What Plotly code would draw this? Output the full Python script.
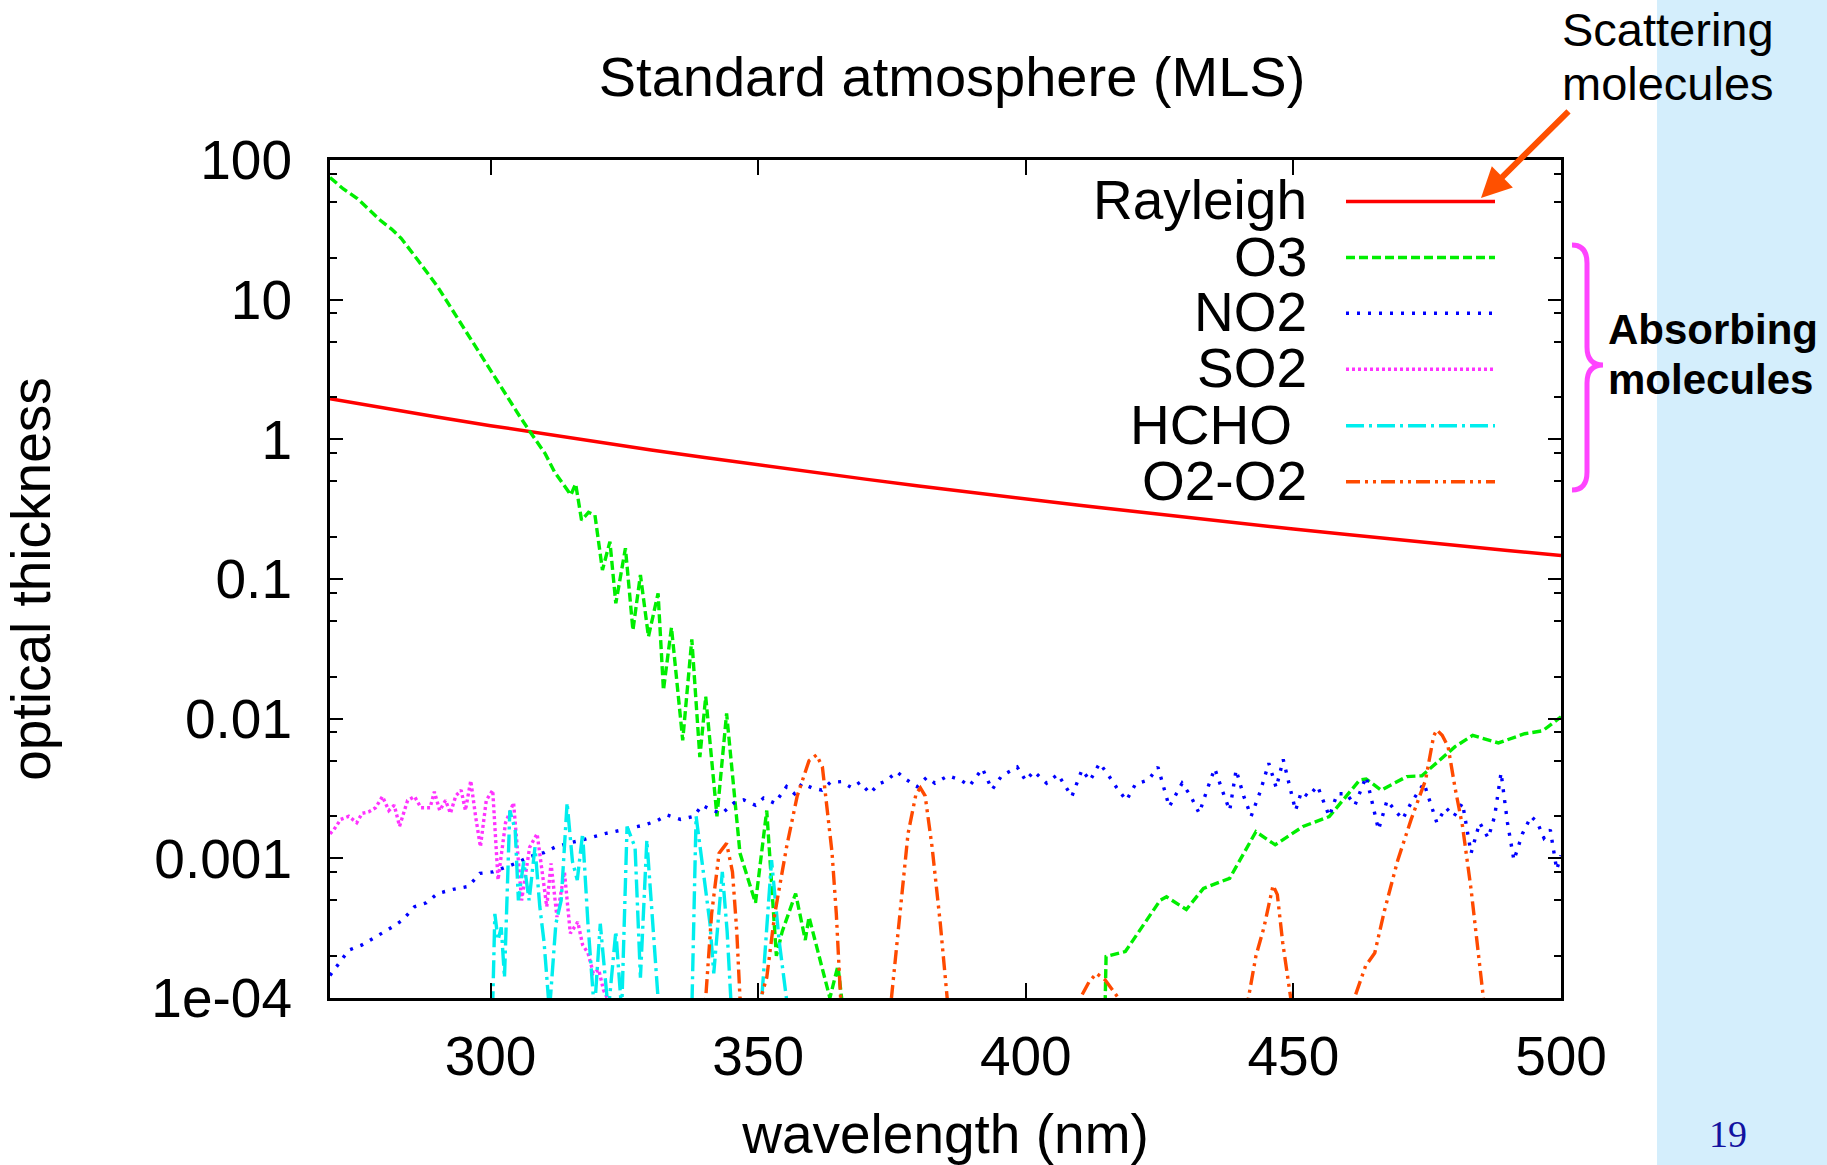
import plotly.graph_objects as go

# ---------------- data ----------------
ray_wl = [270, 280, 290, 300, 310, 320, 330, 340, 350, 360, 370, 380, 390, 400,
          410, 420, 430, 440, 450, 460, 470, 480, 490, 500]
ray_tau = [1.95, 1.674, 1.445, 1.253, 1.092, 0.955, 0.839, 0.741, 0.656, 0.582, 0.519,
           0.464, 0.416, 0.374, 0.337, 0.305, 0.276, 0.251, 0.228, 0.208, 0.190,
           0.174, 0.160, 0.147]

o3_wl = [270.0, 272.5, 275.1, 277.0, 279.4, 281.5, 283.3, 286.5, 290.1, 294.0, 298.0,
         300.5, 303.0, 305.5, 307.6, 310.2, 312.0, 313.0, 313.8, 315.0, 315.9, 317.0,
         318.3, 319.5, 320.9, 322.3, 323.4, 325.2, 326.6, 328.0, 329.5, 331.3, 332.3,
         333.8, 335.9, 337.6, 339.1, 340.2, 342.3, 344.1, 346.6, 349.5, 351.6, 353.4,
         354.5, 357.0, 358.8, 359.5, 363.4, 364.9, 366.5, 372.0, 390.0, 410.0, 414.8,
         415.0, 418.6, 421.1, 425.1, 426.3, 430.0, 433.2, 438.1, 443.0, 446.6, 451.8,
         456.7, 462.4, 463.6, 466.4, 471.2, 474.0, 480.2, 483.5, 488.3, 493.2, 496.6,
         500.0]
o3_tau = [75, 62, 53, 45, 37, 32, 27.5, 19, 12.4, 7.2, 4.13,
          2.9, 2.02, 1.45, 1.10, 0.79, 0.58, 0.51, 0.47, 0.40, 0.48, 0.264,
          0.30, 0.287, 0.116, 0.185, 0.067, 0.166, 0.043, 0.107, 0.0387, 0.079, 0.016,
          0.045, 0.0070, 0.037, 0.0053, 0.0144, 0.0020, 0.0109, 0.00109, 0.00048, 0.0022, 0.0002,
          0.0003, 0.00056, 0.00026, 0.00038, 0.0001, 0.00017, 0.00005, 0.00003, 0.00003, 0.00004, 0.00008,
          0.000198, 0.000215, 0.0003, 0.0005, 0.00053, 0.00043, 0.00061, 0.00072, 0.00155, 0.00125, 0.00169,
          0.00199, 0.00364, 0.0037, 0.00308, 0.00385, 0.0039, 0.0063, 0.0076, 0.0067, 0.0078, 0.0082,
          0.0103]

no2_wl = [270.0, 270.7, 273.5, 276.0, 278.7, 281.5, 283.5, 285.8, 288.0, 290.1, 293.0, 295.9,
          298.0, 300.5, 303.0, 305.0, 307.3, 310.0, 312.0, 314.4, 317.0, 319.0, 321.6,
          324.0, 326.0, 328.7, 331.0, 333.0, 335.5, 338.0, 339.5, 341.5, 343.3, 345.5,
          347.3, 349.5, 351.0, 353.1, 355.3, 356.8, 358.2, 360.0, 361.9, 363.5, 365.5,
          367.5, 369.0, 370.9, 372.5, 374.0, 375.9, 377.5, 379.7, 381.5, 383.0, 385.5,
          387.8, 389.5, 391.9, 393.7, 395.5, 398.4, 400.0, 401.5, 403.9, 406.0, 408.6,
          410.5, 412.0, 413.8, 415.5, 417.0, 418.8, 420.5, 422.9, 424.7, 426.8, 429.2,
          430.8, 432.4, 434.0, 435.3, 436.8, 438.1, 439.3, 440.7, 442.1, 443.8, 445.4,
          446.8, 448.1, 450.4, 451.5, 452.8, 454.5, 456.7, 458.2, 459.9, 461.5, 463.6,
          465.9, 467.5, 469.0, 470.4, 472.0, 474.4, 476.8, 478.5, 480.0, 481.6, 483.2,
          484.8, 486.4, 487.6, 488.8, 490.0, 491.2, 492.8, 494.4, 495.6, 496.8, 498.0,
          499.2, 500.0]
no2_tau = [1.45e-4, 1.58e-4, 2.2e-4, 2.4e-4, 2.75e-4, 3.2e-4, 3.6e-4, 4.5e-4, 4.8e-4, 5.6e-4, 6.0e-4, 6.3e-4,
           7.8e-4, 8.0e-4, 8.7e-4, 9.3e-4, 1.03e-3, 1.1e-3, 1.2e-3, 1.28e-3, 1.35e-3, 1.42e-3, 1.51e-3,
           1.58e-3, 1.65e-3, 1.73e-3, 1.85e-3, 2.04e-3, 1.9e-3, 2.0e-3, 2.4e-3, 2.2e-3, 2.1e-3, 2.5e-3,
           2.62e-3, 2.4e-3, 2.7e-3, 2.48e-3, 3.26e-3, 2.9e-3, 3.44e-3, 3.2e-3, 3.08e-3, 3.5e-3, 3.54e-3,
           3.2e-3, 3.5e-3, 2.92e-3, 3.4e-3, 3.6e-3, 4.17e-3, 3.7e-3, 3.26e-3, 3.8e-3, 3.45e-3, 3.9e-3,
           3.64e-3, 3.3e-3, 4.4e-3, 3.1e-3, 3.9e-3, 4.5e-3, 3.6e-3, 4.2e-3, 3.45e-3, 4.0e-3, 2.77e-3,
           4.3e-3, 3.6e-3, 4.8e-3, 3.9e-3, 3.2e-3, 2.6e-3, 3.4e-3, 3.64e-3, 4.5e-3, 2.34e-3, 3.45e-3,
           2.8e-3, 2.1e-3, 3.2e-3, 4.4e-3, 3.0e-3, 2.2e-3, 4.3e-3, 2.8e-3, 2.0e-3, 3.0e-3, 4.8e-3,
           3.2e-3, 5.1e-3, 2.2e-3, 3.0e-3, 2.77e-3, 3.3e-3, 2.0e-3, 2.9e-3, 2.9e-3, 2.4e-3, 3.85e-3,
           1.6e-3, 2.6e-3, 2.2e-3, 1.9e-3, 2.5e-3, 3.45e-3, 1.8e-3, 2.3e-3, 2.0e-3, 2.48e-3, 1.09e-3,
           1.8e-3, 1.4e-3, 2.0e-3, 4.1e-3, 1.8e-3, 9.7e-4, 1.5e-3, 2.0e-3, 1.8e-3, 1.4e-3, 1.6e-3,
           8.3e-4, 1.05e-3]

so2_wl = [270.0, 270.7, 272.0, 273.5, 275.0, 276.0, 277.2, 278.5, 279.8, 281.0, 282.0, 283.0,
          284.5, 285.8, 287.0, 288.7, 289.5, 290.5, 291.6, 292.5, 293.5, 294.5, 295.3, 296.3,
          297.2, 298.1, 299.2, 300.4, 301.4, 302.8, 304.3, 305.8, 307.3, 308.7, 310.5, 311.3,
          312.4, 313.8, 314.9, 316.3, 317.2, 318.2, 319.2, 320.2, 321.1, 321.8, 323.0, 326.0]
so2_tau = [1.5e-3, 1.6e-3, 1.9e-3, 2.0e-3, 1.8e-3, 2.1e-3, 2.15e-3, 2.3e-3, 2.77e-3, 2.2e-3, 2.4e-3, 1.7e-3,
           2.6e-3, 2.77e-3, 2.3e-3, 2.3e-3, 3.0e-3, 2.2e-3, 2.6e-3, 2.1e-3, 2.8e-3, 3.08e-3, 2.2e-3, 3.6e-3,
           2.0e-3, 1.21e-3, 2.6e-3, 3.08e-3, 7.0e-4, 1.8e-3, 2.5e-3, 5.0e-4, 1.2e-3, 1.5e-3, 4.5e-4, 9.2e-4,
           3.8e-4, 8.0e-4, 2.9e-4, 3.5e-4, 2.4e-4, 2.1e-4, 1.5e-4, 1.6e-4, 1.14e-4, 1.0e-4, 6e-5, 3e-5]

hcho_wl = [299.5, 300.4, 300.8, 301.4, 302.0, 302.6, 303.6, 304.6, 305.2, 306.2, 307.2, 308.3,
           309.2, 310.0, 311.0, 312.2, 313.2, 314.3, 315.3, 316.2, 317.2, 318.2, 319.4, 320.5,
           322.0, 323.4, 324.5, 325.5, 327.0, 328.0, 329.2, 330.6, 331.7, 333.0, 337.0, 337.6,
           338.4, 339.5, 341.0, 341.7, 343.3, 344.2, 345.1, 346.0, 350.0, 350.5, 352.5, 353.9,
           355.8, 357.0]
hcho_tau = [3e-5, 9e-5, 4.0e-4, 2.6e-4, 3.2e-4, 1.4e-4, 2.2e-3, 1.6e-3, 5e-4, 9.5e-4, 5e-4, 1.2e-3,
            4.5e-4, 2.5e-4, 8e-5, 3.4e-4, 5e-4, 2.5e-3, 9.5e-4, 7e-4, 1.5e-3, 3.4e-4, 8e-5, 3.4e-4,
            8e-5, 3.0e-4, 8e-5, 1.69e-3, 1.2e-3, 1.4e-4, 1.35e-3, 2.6e-4, 6e-5, 3e-5, 3e-5, 8e-5,
            2.0e-3, 9.5e-4, 3.4e-4, 1.5e-4, 8e-4, 3e-4, 7e-5, 3e-5, 3e-5, 8e-5, 9.7e-4, 2.6e-4,
            7e-5, 3e-5]

o4_wl = [336.0, 340.2, 341.3, 342.7, 344.1, 345.2, 346.0, 346.6, 348.0, 350.5, 351.6, 353.1,
         355.3, 357.3, 359.5, 360.9, 362.0, 362.8, 363.8, 364.6, 365.4, 367.0, 372.0, 374.9,
         376.5, 378.0, 379.5, 380.3, 381.2, 382.5, 384.0, 385.3, 387.0, 407.0, 410.2, 411.8,
         413.2, 414.8, 417.3, 419.0, 438.0, 441.6, 443.0, 444.5, 446.2, 447.0, 448.0, 449.5,
         451.0, 458.0, 461.4, 463.5, 465.2, 467.0, 469.5, 472.0, 474.7, 476.2, 476.8, 477.8,
         478.9, 480.2, 481.6, 483.2, 484.3, 485.5, 487.0]
o4_tau = [2e-5, 1e-4, 4e-4, 1.09e-3, 1.28e-3, 8e-4, 3e-4, 1e-4, 2e-5, 1e-4, 1.4e-4, 4e-4,
          1.2e-3, 2.8e-3, 5.0e-3, 5.5e-3, 4.5e-3, 2.5e-3, 1.1e-3, 4e-4, 1e-4, 2e-5, 2e-5, 1e-4,
          4e-4, 1.5e-3, 2.9e-3, 3.2e-3, 2.8e-3, 1.2e-3, 3.5e-4, 1e-4, 2e-5, 2e-5, 1e-4, 1.3e-4,
          1.5e-4, 1.35e-4, 1e-4, 3e-5, 2e-5, 1e-4, 2.0e-4, 3.2e-4, 6.4e-4, 5.5e-4, 2.5e-4, 1e-4,
          2e-5, 2e-5, 1e-4, 1.7e-4, 2.1e-4, 4.2e-4, 9.7e-4, 1.9e-3, 3.64e-3, 7.5e-3, 8.3e-3, 7.6e-3,
          6.3e-3, 3.2e-3, 1.7e-3, 6e-4, 2.5e-4, 1e-4, 2e-5]

series_names = ["Rayleigh", "O3", "NO2", "SO2", "HCHO", "O2-O2"]
legend_labels = ["Rayleigh", "O3", "NO2", "SO2", "HCHO", "O2-O2"]
x_tickvals = [300, 350, 400, 450, 500]
y_tickvals = [1e-4, 1e-3, 1e-2, 1e-1, 1, 10, 100]
y_ticktext = ["1e-04", "0.001", "0.01", "0.1", "1", "10", "100"]
y_minorvals = [m * 10.0 ** k for k in range(-4, 2) for m in (2, 5, 8)]

# ---------------- styles ----------------
colors = ["#ff0000", "#00ee00", "#0000ff", "#ff33ff", "#00eeee", "#ff4a00"]
dashes = ["solid", "9px,4px", "3px,8px", "3px,3px", "18px,5px,3px,5px",
          "14px,5px,3px,5px,3px,5px"]
widths = [3.5, 3.4, 3.4, 3.4, 3.4, 3.4]

W, H = 1827, 1165
L, R, T, B = 330, 1561, 160, 998  # plot area in page pixels


def px(x):
    return (x - L) / (R - L)


def py(y):
    return (B - y) / (B - T)


FONT = "Liberation Sans, Arial, Helvetica, sans-serif"
FS = 55

fig = go.Figure()
data = [(ray_wl, ray_tau), (o3_wl, o3_tau), (no2_wl, no2_tau), (so2_wl, so2_tau),
        (hcho_wl, hcho_tau), (o4_wl, o4_tau)]
for i, (xs, ys) in enumerate(data):
    fig.add_trace(go.Scatter(x=xs, y=ys, mode="lines", name=series_names[i],
                             line=dict(color=colors[i], width=widths[i], dash=dashes[i]),
                             showlegend=False))

shapes = []
annotations = []

# light blue side panel
shapes.append(dict(type="rect", xref="paper", yref="paper", x0=px(1657), x1=px(1840),
                   y0=py(1175), y1=py(-10), fillcolor="#d4eefc", line=dict(width=0),
                   layer="below"))

# manual gnuplot-style legend
row_y = [201.5, 257.5, 313.3, 369.3, 425.7, 481.7]
text_right = [1309, 1309, 1309, 1309, 1294, 1309]
for i, lab in enumerate(legend_labels):
    shapes.append(dict(type="line", xref="paper", yref="paper", x0=px(1346), x1=px(1495),
                       y0=py(row_y[i]), y1=py(row_y[i]),
                       line=dict(color=colors[i], width=widths[i], dash=dashes[i])))
    annotations.append(dict(text=lab, xref="paper", yref="paper", x=px(text_right[i]),
                            y=py(row_y[i] - 1), xanchor="right", yanchor="middle",
                            showarrow=False, font=dict(family=FONT, size=FS, color="black")))

# brace for absorbing molecules
bx0, bx1, btip = 1572, 1587, 1603
by0, bmid, by1 = 245, 365, 490
brace = (f"M {px(bx0)},{py(by0)} Q {px(bx1)},{py(by0)} {px(bx1)},{py(by0+18)} "
         f"L {px(bx1)},{py(bmid-18)} Q {px(bx1)},{py(bmid)} {px(btip)},{py(bmid)} "
         f"Q {px(bx1)},{py(bmid)} {px(bx1)},{py(bmid+18)} "
         f"L {px(bx1)},{py(by1-18)} Q {px(bx1)},{py(by1)} {px(bx0)},{py(by1)}")
shapes.append(dict(type="path", xref="paper", yref="paper", path=brace,
                   line=dict(color="#ff44ff", width=5)))

# side texts
annotations += [
    dict(text="Scattering", xref="paper", yref="paper", x=px(1560), y=py(29),
         xanchor="left", yanchor="middle", showarrow=False,
         font=dict(family=FONT, size=47, color="black")),
    dict(text="molecules", xref="paper", yref="paper", x=px(1560), y=py(84),
         xanchor="left", yanchor="middle", showarrow=False,
         font=dict(family=FONT, size=47, color="black")),
    dict(text="<b>Absorbing</b>", xref="paper", yref="paper", x=px(1606), y=py(329),
         xanchor="left", yanchor="middle", showarrow=False,
         font=dict(family=FONT, size=42, color="black")),
    dict(text="<b>molecules</b>", xref="paper", yref="paper", x=px(1606), y=py(379),
         xanchor="left", yanchor="middle", showarrow=False,
         font=dict(family=FONT, size=42, color="black")),
    dict(text="19", xref="paper", yref="paper", x=px(1728), y=py(1134),
         xanchor="center", yanchor="middle", showarrow=False,
         font=dict(family="Liberation Serif, Times New Roman, serif", size=38, color="#1212a0")),
    # arrow pointing at Rayleigh legend line
    dict(text="", xref="paper", yref="paper", x=px(1481), y=py(198),
         ax=89, ay=-88, showarrow=True, arrowhead=2, arrowsize=1.0, arrowwidth=6,
         arrowcolor="#ff5000", standoff=0),
]

fig.update_layout(
    width=W, height=H,
    margin=dict(l=L, r=W - R, t=T, b=H - B, autoexpand=False),
    paper_bgcolor="white", plot_bgcolor="white",
    font=dict(family=FONT, size=FS, color="black"),
    title=dict(text="Standard atmosphere (MLS)", xref="paper", x=px(952), xanchor="center",
               yref="container", y=1 - 76 / H, yanchor="middle",
               font=dict(family=FONT, size=56, color="black")),
    shapes=shapes, annotations=annotations,
    showlegend=False,
)

fig.update_xaxes(range=[270, 500], tickmode="array", tickvals=x_tickvals,
                 ticks="inside", ticklen=15, tickwidth=2, tickcolor="black",
                 showline=True, linewidth=3, linecolor="black", mirror="ticks",
                 showgrid=False, zeroline=False,
                 tickfont=dict(family=FONT, size=FS, color="black"),
                 ticklabelstandoff=8,
                 title=dict(text="wavelength (nm)", standoff=44,
                            font=dict(family=FONT, size=FS, color="black")))

fig.update_yaxes(type="log", range=[-4, 2], tickmode="array", tickvals=y_tickvals,
                 ticktext=y_ticktext, ticks="inside", ticklen=13, tickwidth=2,
                 tickcolor="black", showline=True, linewidth=3, linecolor="black",
                 mirror="ticks", showgrid=False, zeroline=False,
                 minor=dict(tickmode="array", tickvals=y_minorvals, ticks="inside", ticklen=7,
                            tickwidth=2, tickcolor="black", showgrid=False),
                 tickfont=dict(family=FONT, size=FS, color="black"),
                 ticklabelstandoff=24,
                 title=dict(text="optical thickness", standoff=85,
                            font=dict(family=FONT, size=FS, color="black")))

fig.write_html("out.html")
